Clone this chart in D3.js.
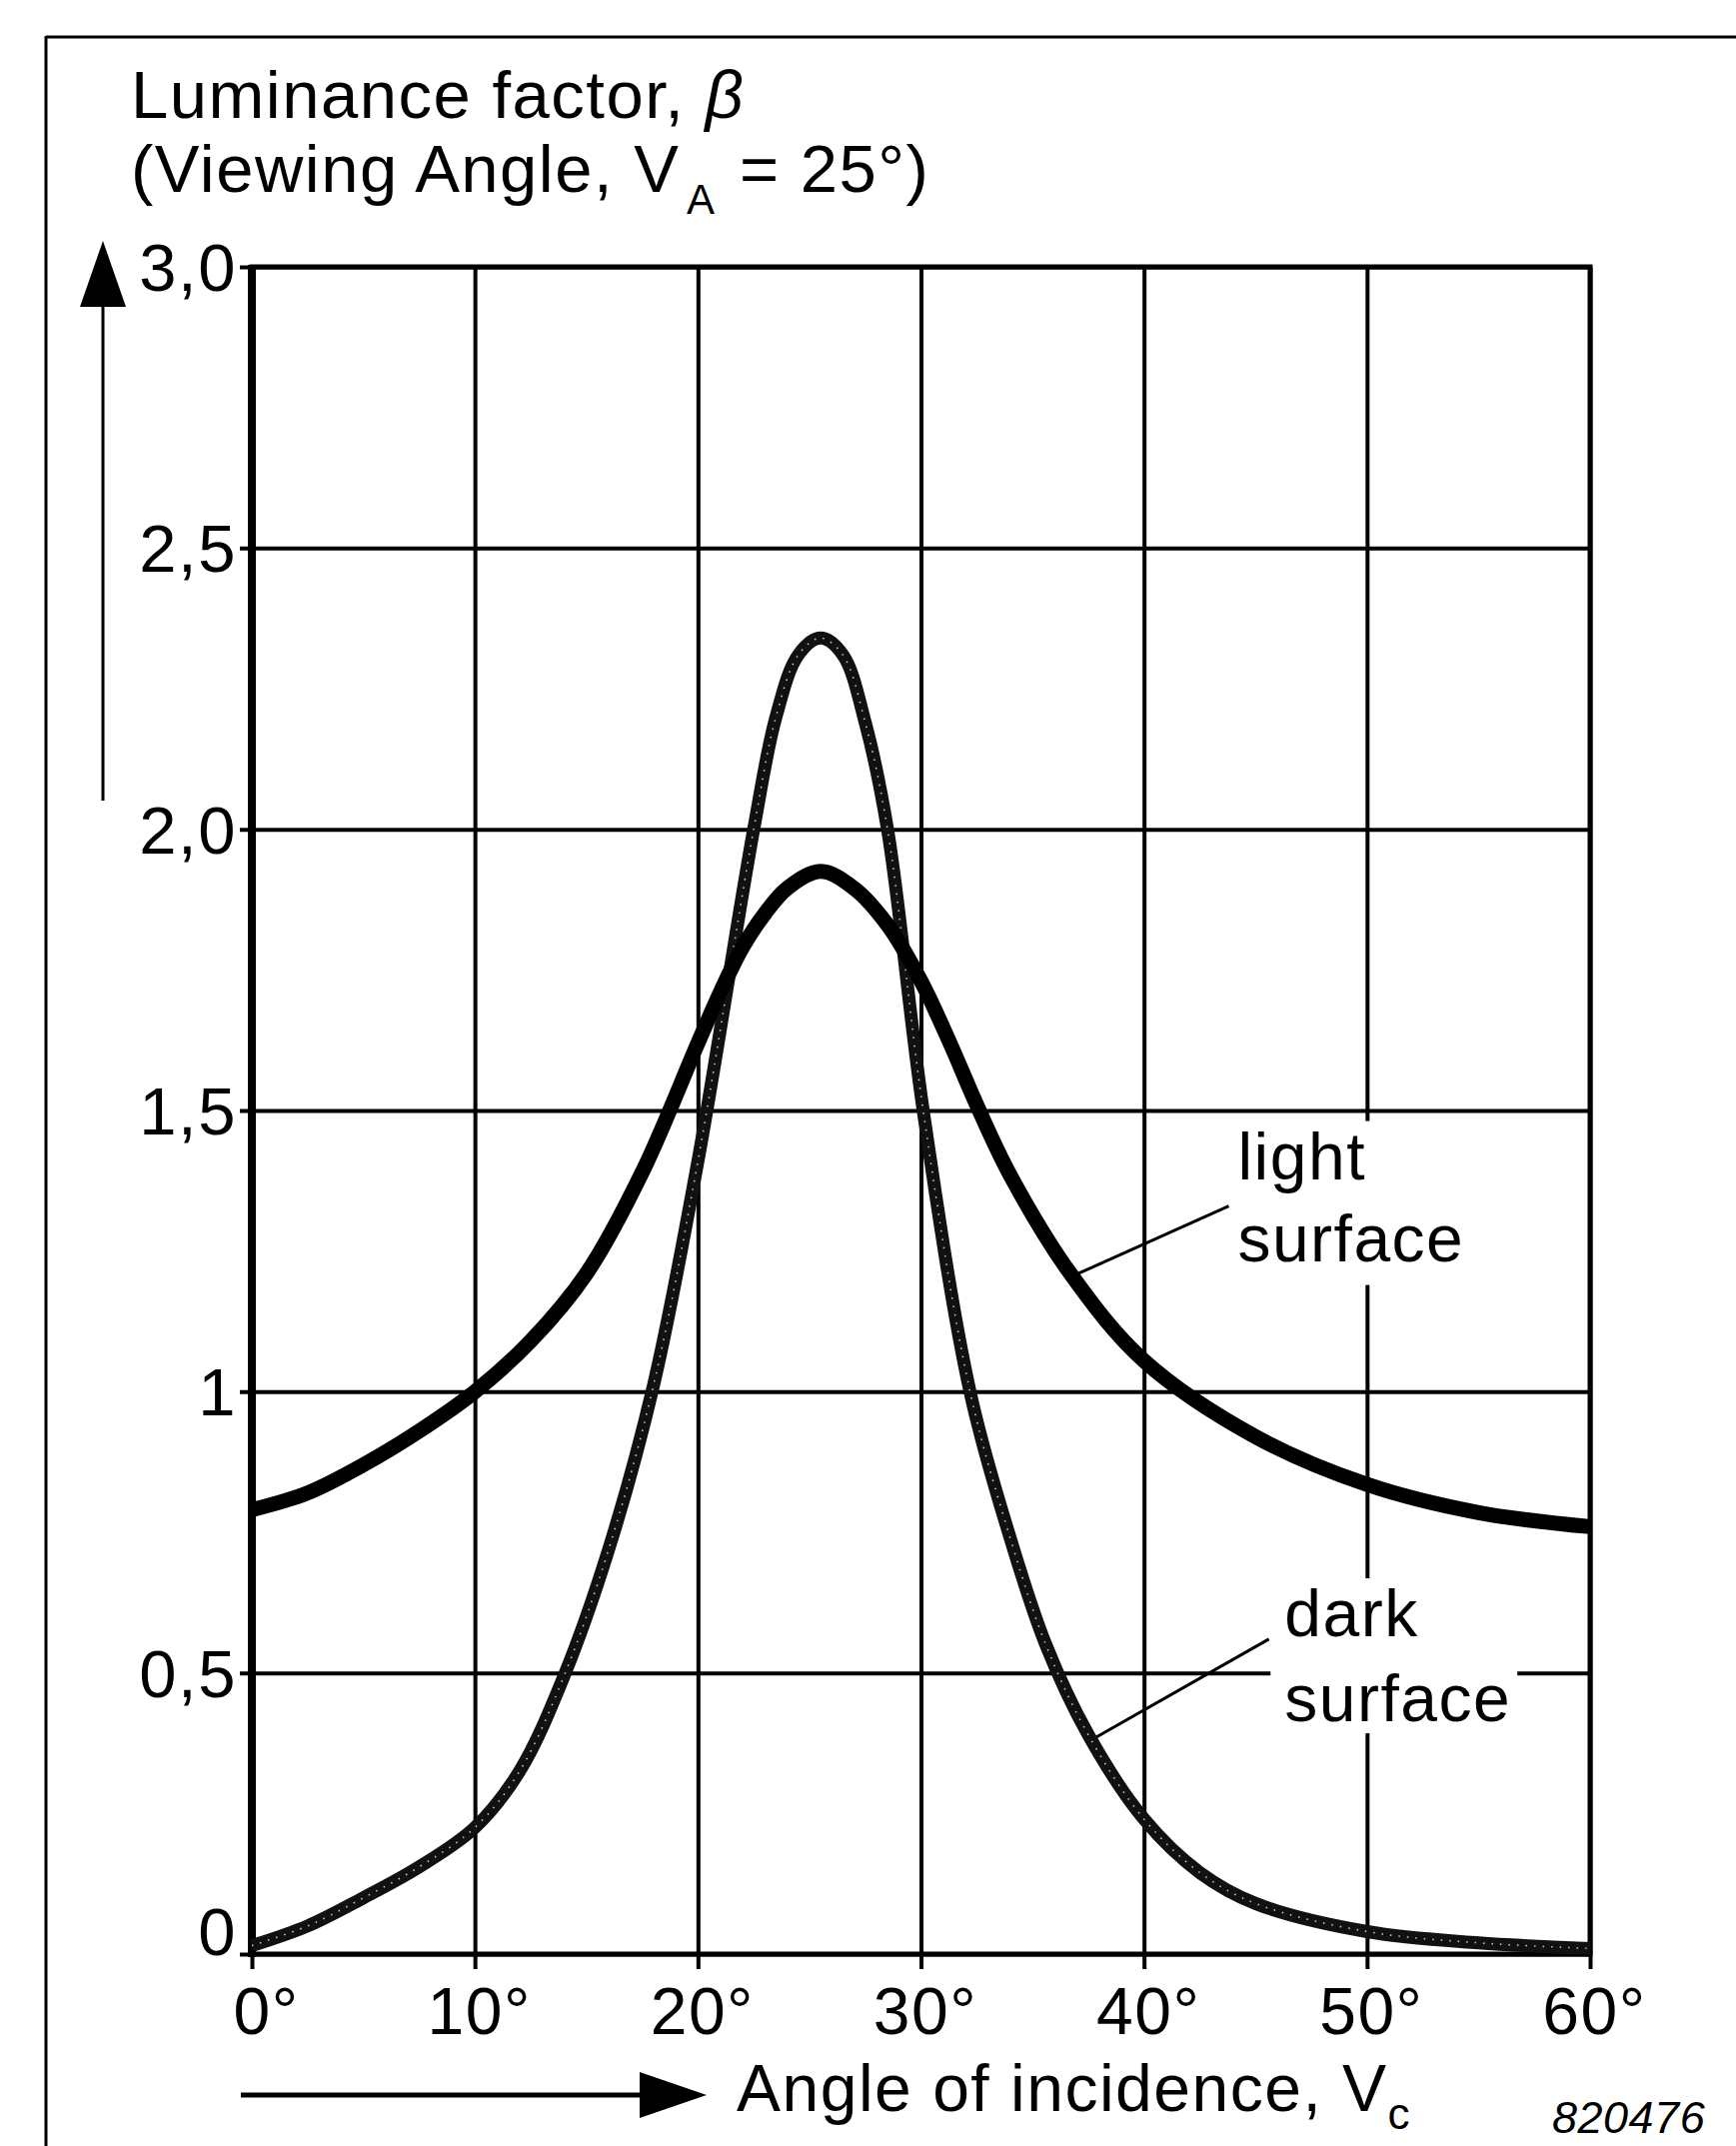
<!DOCTYPE html>
<html>
<head>
<meta charset="utf-8">
<script src="https://cdn.jsdelivr.net/npm/d3@7"></script>
<style>
  body { margin: 0; background: #fff; }
  svg { display: block; }
  text { font-family: "Liberation Sans", Arial, sans-serif; fill: #000; letter-spacing: 1.5px; }
</style>
</head>
<body>
<svg id="chart"></svg>
<script>
// Angle of incidence (degrees) and luminance factor readings
const lightAngles = [0, 2.5, 5, 7.5, 10, 12.5, 15, 17.5, 20, 21, 22, 23, 24, 25.5, 27, 28.5, 30, 31.3, 32.5, 34, 36.7, 40, 45, 50, 55, 60];
const lightValues = [0.79, 0.82, 0.87, 0.93, 1.0, 1.09, 1.21, 1.39, 1.62, 1.71, 1.79, 1.85, 1.895, 1.925, 1.895, 1.83, 1.73, 1.62, 1.51, 1.385, 1.21, 1.055, 0.92, 0.835, 0.785, 0.76];

const darkAngles = [0, 2.5, 5, 7.5, 10, 12, 14, 16, 18, 20, 22.5, 23.5, 24.5, 25.5, 26.5, 27.5, 28.5, 30.1, 32.2, 34, 35.6, 37.5, 40, 42.5, 45, 50, 55, 60];
const darkValues = [0.015, 0.05, 0.10, 0.155, 0.225, 0.325, 0.495, 0.72, 1.01, 1.41, 2.0, 2.2, 2.31, 2.34, 2.31, 2.19, 2.0, 1.5, 1.0, 0.74, 0.55, 0.39, 0.24, 0.145, 0.09, 0.04, 0.02, 0.01];

const xTicks = [0, 10, 20, 30, 40, 50, 60];
const xTickLabels = ['0°', '10°', '20°', '30°', '40°', '50°', '60°'];
const yTicks = [0, 0.5, 1, 1.5, 2, 2.5, 3];
const yTickLabels = ['0', '0,5', '1', '1,5', '2,0', '2,5', '3,0'];

const W = 1737, H = 2147;
const margin = {top: 267, left: 252, right: 146, bottom: 192};
const width = W - margin.left - margin.right;
const height = H - margin.top - margin.bottom;

const svg = d3.select('#chart').attr('width', W).attr('height', H);

// outer frame (top + left only)
svg.append('line').attr('x1', 46).attr('x2', W).attr('y1', 37).attr('y2', 37)
    .attr('stroke', '#000').attr('stroke-width', 3);
svg.append('line').attr('x1', 46).attr('x2', 46).attr('y1', 36).attr('y2', H)
    .attr('stroke', '#000').attr('stroke-width', 3);

const chart = svg.append('g').attr('transform', `translate(${margin.left},${margin.top})`);

const x = d3.scaleLinear().domain([0, 60]).range([0, width]);
const y = d3.scaleLinear().domain([0, 3]).range([height, 0]);

// y gridlines, sticking out a little to the left
const yAxisG = chart.append('g')
    .attr('transform', 'translate(-12,0)')
    .call(d3.axisLeft(y).tickValues(yTicks).tickSize(-(width + 12)).tickPadding(3)
      .tickFormat((d, i) => yTickLabels[i]))
    .call(g => g.select('.domain').remove());
yAxisG.selectAll('line').attr('stroke', '#000').attr('stroke-width', 4);
yAxisG.selectAll('text')
    .attr('font-size', 67)
    .attr('font-family', '"Liberation Sans", Arial, sans-serif')
    .attr('dy', (d) => d === 0 ? '0em' : '0.35em');

// x gridlines, sticking out a little below
const xAxisG = chart.append('g')
    .attr('transform', `translate(0,${height + 15})`)
    .call(d3.axisBottom(x).tickValues(xTicks).tickSize(-(height + 15)).tickPadding(18)
      .tickFormat((d, i) => xTickLabels[i]))
    .call(g => g.select('.domain').remove());
xAxisG.selectAll('line').attr('stroke', '#000').attr('stroke-width', 4);
xAxisG.selectAll('text')
    .attr('font-size', 66)
    .attr('font-family', '"Liberation Sans", Arial, sans-serif')
    .attr('dx', (d) => d === 0 ? 14 : 4);

// plot frame
chart.append('rect').attr('width', width).attr('height', height)
    .attr('fill', 'none').attr('stroke', '#000').attr('stroke-width', 5);
chart.append('line').attr('x1', 0).attr('x2', 0).attr('y1', -2).attr('y2', height + 3)
    .attr('stroke', '#000').attr('stroke-width', 8);

// curve labels (with white knock-out behind them)
function curveLabel(lines, px, py, lh, padBottom) {
  const g = chart.append('g');
  const bg = g.append('rect').attr('fill', '#fff');
  const t = g.append('text').attr('font-size', 66);
  lines.forEach((s, i) => t.append('tspan').attr('x', px).attr('y', py + i * lh).text(s));
  const b = t.node().getBBox();
  bg.attr('x', b.x - 14).attr('y', b.y + 2).attr('width', b.width + 20).attr('height', b.height + padBottom);
}
curveLabel(['light', 'surface'], x(44.2), y(1.378), 82, 8);
curveLabel(['dark', 'surface'], x(46.3), y(0.565), 85, -4);

// leader lines
const leaders = [
  [[43.8, 1.33], [37.05, 1.21]],
  [[45.6, 0.56], [37.6, 0.38]]
];
leaders.forEach(l => chart.append('line')
    .attr('x1', x(l[0][0])).attr('y1', y(l[0][1]))
    .attr('x2', x(l[1][0])).attr('y2', y(l[1][1]))
    .attr('stroke', '#000').attr('stroke-width', 3));

const line = d3.line().x(d => x(d[0])).y(d => y(d[1])).curve(d3.curveCatmullRom.alpha(0.5));
const lightData = lightAngles.map((a, i) => [a, lightValues[i]]);
const darkData = darkAngles.map((a, i) => [a, darkValues[i]]);

// dark surface: black stroke with a speckled texture
chart.append('path').datum(darkData).attr('d', line)
    .attr('fill', 'none').attr('stroke', '#111').attr('stroke-width', 13);
chart.append('path').datum(darkData).attr('d', line)
    .attr('fill', 'none').attr('stroke', '#fff').attr('stroke-width', 1.6)
    .attr('stroke-dasharray', '1.5 7').attr('opacity', 0.75);

// light surface: solid heavy stroke
chart.append('path').datum(lightData).attr('d', line)
    .attr('fill', 'none').attr('stroke', '#000').attr('stroke-width', 15);

// y axis title
const t1 = svg.append('text').attr('x', 131).attr('y', 118).attr('font-size', 67);
t1.append('tspan').text('Luminance factor, ');
t1.append('tspan').attr('font-style', 'italic').text('β');
const t2 = svg.append('text').attr('x', 131).attr('y', 192).attr('font-size', 67);
t2.append('tspan').text('(Viewing Angle, V');
t2.append('tspan').attr('x', 687).attr('dy', 22).attr('font-size', 42).text('A');
t2.append('tspan').attr('x', 740).attr('dy', -22).text('= 25°)');

// y arrow
svg.append('line').attr('x1', 103).attr('x2', 103).attr('y1', 801).attr('y2', 305)
    .attr('stroke', '#000').attr('stroke-width', 3);
svg.append('path').attr('d', 'M103,241 L126,307 L80,307 Z').attr('fill', '#000');

// x arrow
svg.append('line').attr('x1', 241).attr('x2', 645).attr('y1', 2096).attr('y2', 2096)
    .attr('stroke', '#000').attr('stroke-width', 5);
svg.append('path').attr('d', 'M707,2096 L640,2073 L640,2119 Z').attr('fill', '#000');

const t3 = svg.append('text').attr('x', 737).attr('y', 2112).attr('font-size', 66);
t3.append('tspan').text('Angle of incidence, V');
t3.append('tspan').attr('dy', 18).attr('font-size', 44).text('c');

svg.append('text').attr('x', 1553).attr('y', 2134).attr('font-size', 45)
    .attr('font-style', 'italic').style('letter-spacing', '0.5px').text('820476');
</script>
</body>
</html>
